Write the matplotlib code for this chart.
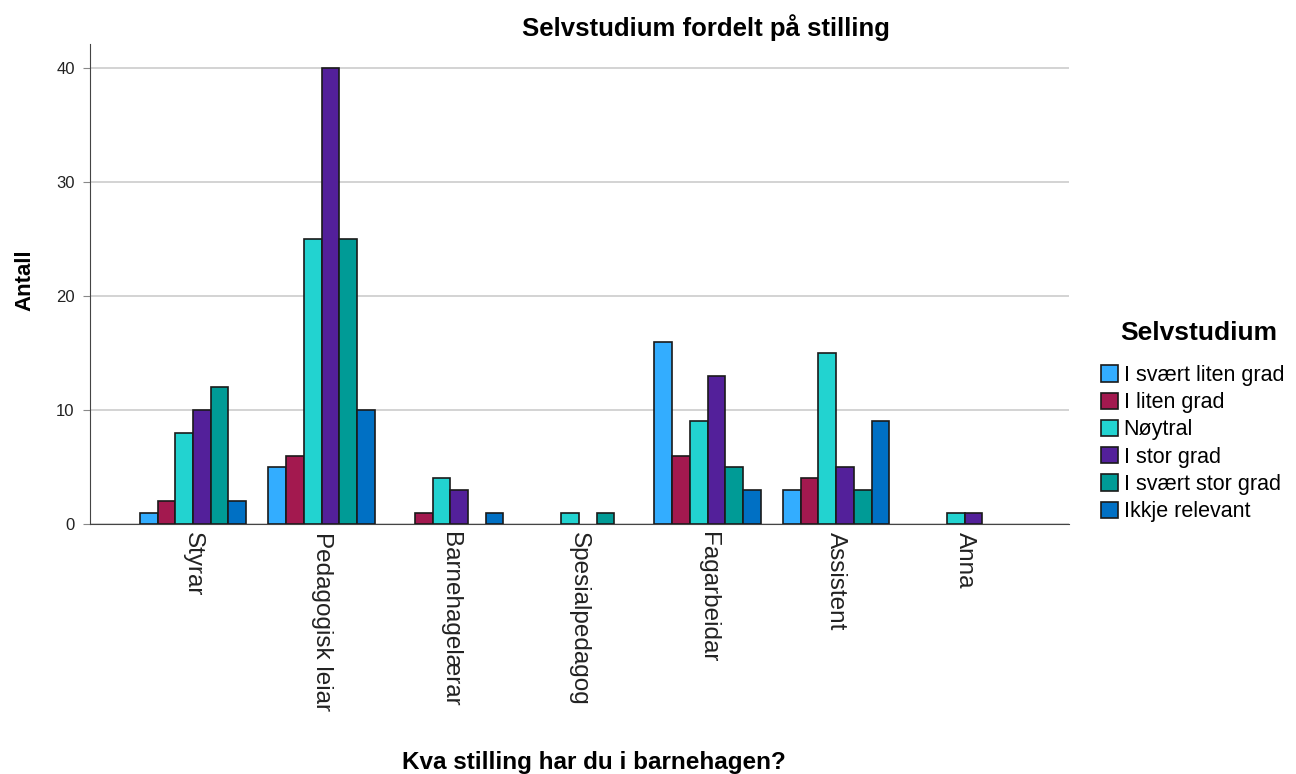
import matplotlib
matplotlib.use("Agg")
import matplotlib.pyplot as plt
import numpy as np
from matplotlib.patches import Patch

plt.rcParams['font.family'] = ['Liberation Sans', 'DejaVu Sans']

categories = ["Styrar", "Pedagogisk leiar", "Barnehagelærar", "Spesialpedagog",
              "Fagarbeidar", "Assistent", "Anna"]
series_names = ["I svært liten grad", "I liten grad", "Nøytral", "I stor grad",
                "I svært stor grad", "Ikkje relevant"]
svaert_liten = [1, 5, 0, 0, 16, 3, 0]
liten = [2, 6, 1, 0, 6, 4, 0]
noytral = [8, 25, 4, 1, 9, 15, 1]
stor = [10, 40, 3, 0, 13, 5, 1]
svaert_stor = [12, 25, 0, 1, 5, 3, 0]
ikkje_relevant = [2, 10, 1, 0, 3, 9, 0]
series = [svaert_liten, liten, noytral, stor, svaert_stor, ikkje_relevant]
colors = ["#33adff", "#a3194f", "#22d3d0", "#53209a", "#009b96", "#0070c4"]

fig = plt.figure(figsize=(12.96, 7.74), dpi=100)
ax = fig.add_axes([90/1296, 1 - 524/774, (1069-90)/1296, (524-44)/774])

x = np.arange(len(categories))
w = 0.1375
for j, (vals, c) in enumerate(zip(series, colors)):
    offs = (j - 2.5) * w
    for i, v in enumerate(vals):
        if v > 0:
            ax.bar(x[i] + offs, v, width=w, color=c, edgecolor="#1a1a1a",
                   linewidth=1.2, zorder=3)

ax.set_xlim(-0.80, 6.81)
ax.set_ylim(0, 42.1)
ax.set_yticks([0, 10, 20, 30, 40])
ax.yaxis.grid(True, color="#cccccc", linewidth=1.2, zorder=0)
ax.set_axisbelow(True)
for s in ["top", "right"]:
    ax.spines[s].set_visible(False)
ax.spines["left"].set_color("#444444")
ax.spines["bottom"].set_color("#444444")
ax.tick_params(axis="y", labelsize=12, length=5, color="#888888", pad=6,
               labelcolor="#222222")
ax.tick_params(axis="x", length=0, pad=6, labelcolor="#222222")
ax.set_xticks(x)
ax.set_xticklabels(categories, rotation=-90, fontsize=17.5, va="top", ha="center")

fig.text(706/1296, 1 - 28/774, "Selvstudium fordelt på stilling", ha="center",
         va="center", fontsize=18.5, fontweight="bold")
fig.text(594/1296, 1 - 762/774, "Kva stilling har du i barnehagen?", ha="center",
         va="center", fontsize=17.5, fontweight="bold")
fig.text(25/1296, 1 - 280/774, "Antall", ha="center", va="center",
         rotation=90, fontsize=16, fontweight="bold")
fig.text(1199/1296, 1 - 333/774, "Selvstudium", ha="center", va="center",
         fontsize=19, fontweight="bold")

handles = [Patch(facecolor=c, edgecolor="#1a1a1a", linewidth=1.2) for c in colors]
leg = fig.legend(handles, series_names,
                 loc="upper left", bbox_to_anchor=(1101/1296, 1 - 365/774),
                 frameon=False, fontsize=15.5,
                 handlelength=0.8, handleheight=0.8, handletextpad=0.25,
                 labelspacing=0.29, borderaxespad=0, borderpad=0)

fig.savefig("out.png", dpi=100)
